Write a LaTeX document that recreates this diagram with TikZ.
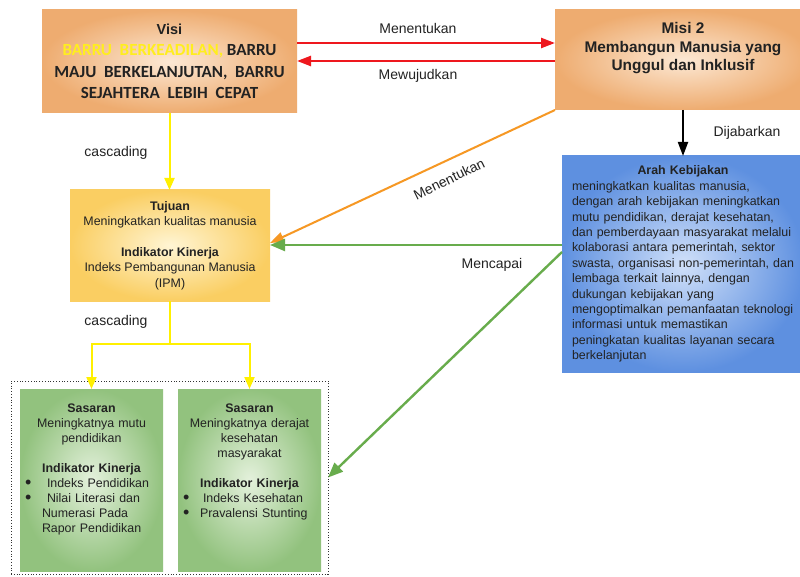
\documentclass[tikz,border=0pt]{standalone}
\usepackage{fontspec}
\setmainfont{Liberation Sans}
\newfontfamily\visifont{Carlito}
\usetikzlibrary{arrows.meta,positioning}
\definecolor{ink}{RGB}{34,34,34}
\definecolor{orgout}{RGB}{238,172,112}
\definecolor{orgin}{RGB}{252,232,212}
\definecolor{yelout}{RGB}{250,206,98}
\definecolor{yelin}{RGB}{255,245,212}
\definecolor{bluout}{RGB}{94,144,224}
\definecolor{bluin}{RGB}{208,224,249}
\definecolor{grnout}{RGB}{146,194,126}
\definecolor{grnin}{RGB}{228,241,220}
\definecolor{arred}{RGB}{238,24,30}
\definecolor{aryel}{RGB}{255,240,0}
\definecolor{arorg}{RGB}{246,152,36}
\definecolor{argrn}{RGB}{104,172,76}
\definecolor{visiyel}{RGB}{255,238,30}
\newcommand\blt{\rlap{\raisebox{-1.2pt}{\fontsize{18}{15}\selectfont\textbullet}}}

\begin{document}
\begin{tikzpicture}[x=1pt,y=-1pt,font=\fontsize{12.4}{15.4}\selectfont,text=ink,
box/.style={inner sep=0pt,outer sep=0pt},
lbl/.style={font=\fontsize{14}{16}\selectfont},
redarr/.style={-{Triangle[length=14pt,width=10pt]},line width=2.4pt,draw=arred},
blkarr/.style={-{Triangle[length=14pt,width=10pt]},line width=2pt,draw=black},
yelarr/.style={-{Triangle[length=12pt,width=10pt]},line width=2pt,draw=aryel},
orgarr/.style={-{Triangle[length=14pt,width=10pt]},line width=2pt,draw=arorg},
grnarr/.style={-{Triangle[length=15pt,width=12pt]},line width=2.4pt,draw=argrn}]

\fill[white](0,0)rectangle(800,577);
\useasboundingbox(0,0)rectangle(800,577);

\node[box,minimum width=255pt,minimum height=103pt,inner color=orgin,outer color=orgout,align=center,
  font=\visifont\bfseries\fontsize{17}{21.5}\selectfont] (visi) at(169.5,61.5)
  {{\rmfamily\fontsize{14.5}{20}\selectfont Visi}\\{\color{visiyel}BARRU\ \ BERKEADILAN,} BARRU\\MAJU\ \ BERKELANJUTAN,\ \ BARRU\\SEJAHTERA\ \ LEBIH\ \ CEPAT};
\node[box,minimum width=256pt,minimum height=100pt,inner color=orgin,outer color=orgout] (misi) at(683,60){};
\node[align=center,font=\bfseries\fontsize{15.4}{18.5}\selectfont] (misitxt) at([yshift=11.5pt]misi.center)
  {Misi 2\\Membangun Manusia yang\\Unggul dan Inklusif};

\node[box,minimum width=242pt,minimum height=216pt,inner color=bluin,outer color=bluout,text width=222pt,align=left] (arah) at(683,264)
  {\makebox[222pt]{\textbf{Arah Kebijakan}}\\meningkatkan kualitas manusia,\\dengan arah kebijakan meningkatkan\\mutu pendidikan, derajat kesehatan,\\dan pemberdayaan masyarakat melalui\\kolaborasi antara pemerintah, sektor\\swasta, organisasi non-pemerintah, dan\\lembaga terkait lainnya, dengan\\dukungan kebijakan yang\\mengoptimalkan pemanfaatan teknologi\\informasi untuk memastikan\\peningkatan kualitas layanan secara\\berkelanjutan};

\node[box,minimum width=200pt,minimum height=111pt,inner color=yelin,outer color=yelout,align=center] (tujuan) at(170,245.5)
  {\textbf{Tujuan}\\Meningkatkan kualitas manusia\\[15.4pt]\textbf{Indikator Kinerja}\\Indeks Pembangunan Manusia\\(IPM)};

\node[box,draw=black!80,dotted,line width=.8pt,minimum width=317pt,minimum height=193pt] (grp) at(169.5,477.5){};
\node[box,minimum width=143pt,minimum height=182pt,inner color=grnin,outer color=grnout] (sas1) at(91.5,480){};
\node[box,minimum width=143pt,minimum height=182pt,inner color=grnin,outer color=grnout] (sas2) at(249.5,480){};
\node[box,anchor=north,text width=143pt,align=center,font=\fontsize{12.4}{15}\selectfont] (sas1txt) at([yshift=-15pt]sas1.north)
  {\textbf{Sasaran}\\Meningkatnya mutu\\pendidikan\\[15pt]\textbf{Indikator Kinerja}\\
  \makebox[133pt][l]{\blt\hspace{22pt}Indeks Pendidikan}\\
  \makebox[133pt][l]{\blt\hspace{22pt}Nilai Literasi dan}\\
  \makebox[133pt][l]{\hspace{17pt}Numerasi Pada}\\
  \makebox[133pt][l]{\hspace{17pt}Rapor Pendidikan}};
\node[box,anchor=north,text width=143pt,align=center,font=\fontsize{12.4}{15}\selectfont] (sas2txt) at([yshift=-15pt]sas2.north)
  {\textbf{Sasaran}\\Meningkatnya derajat\\kesehatan\\masyarakat\\[15pt]\textbf{Indikator Kinerja}\\
  \makebox[133pt][l]{\blt\hspace{20pt}Indeks Kesehatan}\\
  \makebox[133pt][l]{\blt\hspace{17pt}Pravalensi Stunting}};

\coordinate (m1) at([yshift=17pt]misi.west);
\coordinate (m2) at([yshift=-1pt]misi.west);
\coordinate (g1) at([yshift=19pt]arah.west);
\draw[redarr](visi.east|-m1)--(m1);
\draw[redarr](m2)--(visi.east|-m2);
\draw[blkarr](misi.south)--(arah.north);
\draw[yelarr](visi.south)--(visi.south|-tujuan.north);
\draw[yelarr](tujuan.south)--++(0,43)-|(sas1.north);
\draw[yelarr]([yshift=-43pt]tujuan.south)-|(sas2.north);
\draw[orgarr](misi.south west)--([yshift=2.5pt]tujuan.east);
\draw[grnarr](g1)--(tujuan.east|-g1);
\draw[grnarr]([yshift=12pt]arah.west)--(grp.east);

\node[lbl] (lmen) at(418,28){Menentukan};
\node[lbl] (lmew) at(418,76){Mewujudkan};
\node[lbl] (ldij) at(747,133){Dijabarkan};
\node[lbl] (lcas1) at(116,153){cascading};
\node[lbl] (lcas2) at(116,322){cascading};
\node[lbl,rotate=26] (lmen2) at(449,179){Menentukan};
\node[lbl] (lmcp) at(492,265){Mencapai};
\end{tikzpicture}
\end{document}
